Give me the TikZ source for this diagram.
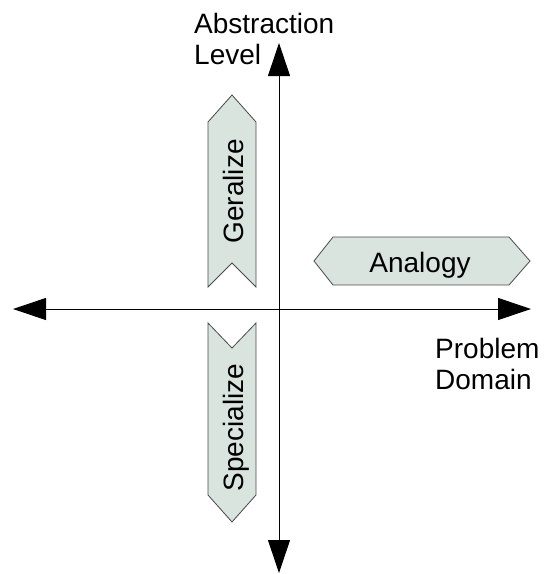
\documentclass[tikz,border=0pt]{standalone}
\usepackage{fontspec}
\setmainfont{Liberation Sans}
\usetikzlibrary{arrows.meta}
\definecolor{bandfill}{HTML}{D9E4DF}
\definecolor{bandline}{HTML}{4A4A4A}
\begin{document}
\begin{tikzpicture}[x=1pt,y=-1pt,
  axis/.style={line width=1pt,{Triangle[length=33pt,width=22pt]}-{Triangle[length=33pt,width=22pt]}},
  band/.style={fill=bandfill,draw=bandline,line width=0.8pt,line join=miter},
  lbl/.style={font=\fontsize{28}{31}\selectfont,inner sep=0pt,anchor=base},
  axislbl/.style={font=\fontsize{28}{31}\selectfont,inner sep=0pt,align=left,anchor=north west}]
\useasboundingbox (0,0) rectangle (545,574);

% axes
\coordinate (top) at (279,43);
\coordinate (bottom) at (279,573);
\coordinate (left) at (13,309);
\coordinate (right) at (531,309);
\draw[axis] (bottom) -- (top);
\draw[axis] (left) -- (right);

% upward band: generalize
\draw[band] (208,122) -- (232,95) -- (256,122) -- (256,287) -- (232,263) -- (208,287) -- cycle;
\node[lbl,rotate=90] (gen) at (243,191.5) {Geralize};

% downward band: specialize
\draw[band] (208,323) -- (232,348) -- (256,323) -- (256,495) -- (232,522) -- (208,495) -- cycle;
\node[lbl,rotate=90] (spec) at (243,427.5) {Specialize};

% sideways band: analogy
\draw[band] (314,261) -- (333,237) -- (509,237) -- (530,261) -- (509,285) -- (333,285) -- cycle;
\node[lbl] (ana) at (420,272) {Analogy};

% axis labels
\node[axislbl] (ylbl) at (194,12.6) {Abstraction\\Level};
\node[axislbl] (xlbl) at (435,337.6) {Problem\\Domain};
\end{tikzpicture}
\end{document}
